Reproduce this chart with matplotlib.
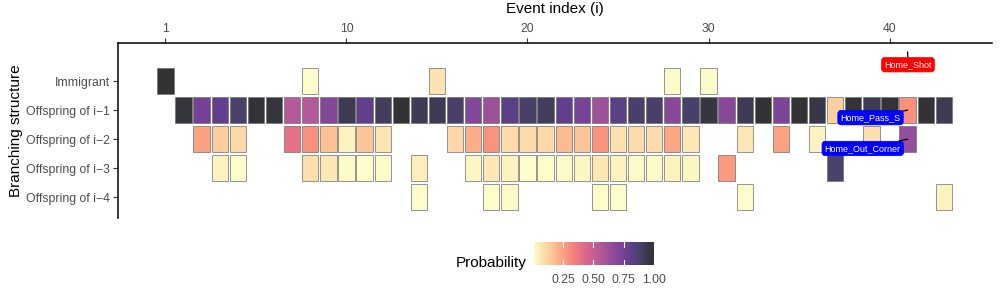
import numpy as np
import matplotlib
matplotlib.use("Agg")
import matplotlib.pyplot as plt
from matplotlib.patches import Rectangle
from matplotlib.colors import Normalize

plt.rcParams['font.family'] = ['Liberation Sans', 'DejaVu Sans']

# ---------------- data ----------------
row_labels = ["Immigrant", "Offspring of i\u22121", "Offspring of i\u22122",
              "Offspring of i\u22123", "Offspring of i\u22124"]

immigrant_pos = [0, 8, 15, 28, 30]
immigrant_val = [1.00, 0.01, 0.08, 0.02, 0.02]

off1_pos = list(range(1, 44))
off1_val = [0.98, 0.75, 0.80, 0.87, 0.99, 0.98, 0.55, 0.55, 0.70, 0.93, 0.80, 0.90, 1.00,
            0.92, 0.92, 0.88, 0.70, 0.62, 0.82, 0.88, 0.90, 0.80, 0.74, 0.62, 0.82, 0.88, 0.88, 0.69, 0.88,
            0.97, 0.69, 0.92, 1.00, 0.72, 1.00, 0.95, 0.13, 1.00, 0.92, 1.00, 0.30, 1.00, 0.93]

off2_pos = [2, 3, 4, 7, 8, 9, 10, 11, 12,
            16, 17, 18, 19, 20, 21, 22, 23, 24, 25, 26, 27, 28, 29,
            32, 34, 36, 39, 41]
off2_val = [0.25, 0.14, 0.11, 0.40, 0.30, 0.17, 0.04, 0.16, 0.08,
            0.11, 0.22, 0.29, 0.10, 0.10, 0.11, 0.19, 0.16, 0.29, 0.09, 0.10, 0.10, 0.24, 0.07,
            0.07, 0.25, 0.04, 0.09, 0.65]

off3_pos = [3, 4, 8, 9, 10, 11, 12,
            14, 17, 18, 19, 20, 21, 22, 23, 24, 25, 26, 27, 28, 29,
            31, 37]
off3_val = [0.04, 0.01, 0.09, 0.07, 0.02, 0.01, 0.02,
            0.05, 0.03, 0.07, 0.04, 0.01, 0.01, 0.02, 0.03, 0.07, 0.04, 0.02, 0.02, 0.04, 0.03,
            0.27, 0.87]

off4_pos = [14, 18, 19, 24, 25, 32, 43]
off4_val = [0.01, 0.01, 0.02, 0.01, 0.01, 0.01, 0.04]

x_ticks = [0, 10, 20, 30, 40]
x_ticklabels = ["1", "10", "20", "30", "40"]
cbar_ticks = [0.25, 0.50, 0.75, 1.00]

ann_text = ["Home_Shot", "Home_Pass_S", "Home_Out_Corner"]
ann_target = [(41, -1), (41, 1), (41, 2)]
ann_color = ["#ff0000", "#0000ff", "#0000ff"]
ann_label_pos = [(41.02, -0.56), (38.95, 1.26), (38.52, 2.32)]

# ---------------- plot ----------------
rows = [(immigrant_pos, immigrant_val), (off1_pos, off1_val), (off2_pos, off2_val),
        (off3_pos, off3_val), (off4_pos, off4_val)]
allv = np.concatenate([np.array(v) for _, v in rows])
norm = Normalize(vmin=allv.min(), vmax=allv.max())
cmap = plt.get_cmap('magma_r')
ALPHA = 0.8

fig = plt.figure(figsize=(10, 3), dpi=100)
ax = fig.add_axes([0.118, 0.2733, 0.874, 0.5833])

w = 0.9
for r, (pos, vals) in enumerate(rows):
    for p, v in zip(pos, vals):
        fc = cmap(norm(v))
        ax.add_patch(Rectangle((p - w / 2, r - w / 2), w, w,
                               facecolor=(fc[0], fc[1], fc[2], ALPHA),
                               edgecolor=(0.45, 0.45, 0.45, 0.75), linewidth=0.7))

ax.set_xlim(-2.62, 45.66)
ax.set_ylim(4.71, -1.306)

ax.xaxis.tick_top()
ax.set_xticks(x_ticks)
ax.set_xticklabels(x_ticklabels)
ax.set_yticks(range(len(row_labels)))
ax.set_yticklabels(row_labels)
ax.tick_params(axis='both', colors='#333333', labelcolor='#4d4d4d', labelsize=8.8,
               length=3.5, width=0.8, pad=2)
for s in ['right', 'bottom']:
    ax.spines[s].set_visible(False)
for s in ['top', 'left']:
    ax.spines[s].set_linewidth(1.1)
    ax.spines[s].set_color('black')

fig.text(0.555, 1 - 8.5 / 300, "Event index (i)", ha='center', va='center', fontsize=11)
fig.text(0.016, 1 - 131 / 300, "Branching structure", ha='center', va='center',
         rotation=90, fontsize=11)

for txt, tgt, col, lp in zip(ann_text, ann_target, ann_color, ann_label_pos):
    ax.annotate(txt, xy=tgt, xytext=lp, ha='center', va='center', fontsize=6.5,
                color='white',
                bbox=dict(boxstyle='round,pad=0.3,rounding_size=0.35', fc=col, ec=col, lw=0.5),
                arrowprops=dict(arrowstyle='-', color='black', lw=0.9, shrinkA=0, shrinkB=0))

# colorbar
cax = fig.add_axes([0.534, 1 - 265 / 300, 0.120, 23 / 300])
grad = np.linspace(norm.vmin, norm.vmax, 256).reshape(1, -1)
cax.imshow(grad, aspect='auto', cmap=cmap, norm=norm, alpha=ALPHA,
           extent=(norm.vmin, norm.vmax, 0, 1))
cax.set_xlim(norm.vmin, norm.vmax)
cax.set_ylim(0, 1)
for t in cbar_ticks:
    cax.plot([t, t], [0, 0.2], color='white', lw=0.8)
    cax.plot([t, t], [0.8, 1], color='white', lw=0.8)
cax.set_yticks([])
cax.set_xticks(cbar_ticks)
cax.set_xticklabels(["%.2f" % t for t in cbar_ticks])
cax.tick_params(axis='x', length=0, labelsize=8.8, labelcolor='#4d4d4d', pad=6.5)
for s in cax.spines.values():
    s.set_visible(False)
fig.text(0.527, 1 - 263 / 300, "Probability", ha='right', va='center', fontsize=11)

fig.savefig("out.png", dpi=100)
